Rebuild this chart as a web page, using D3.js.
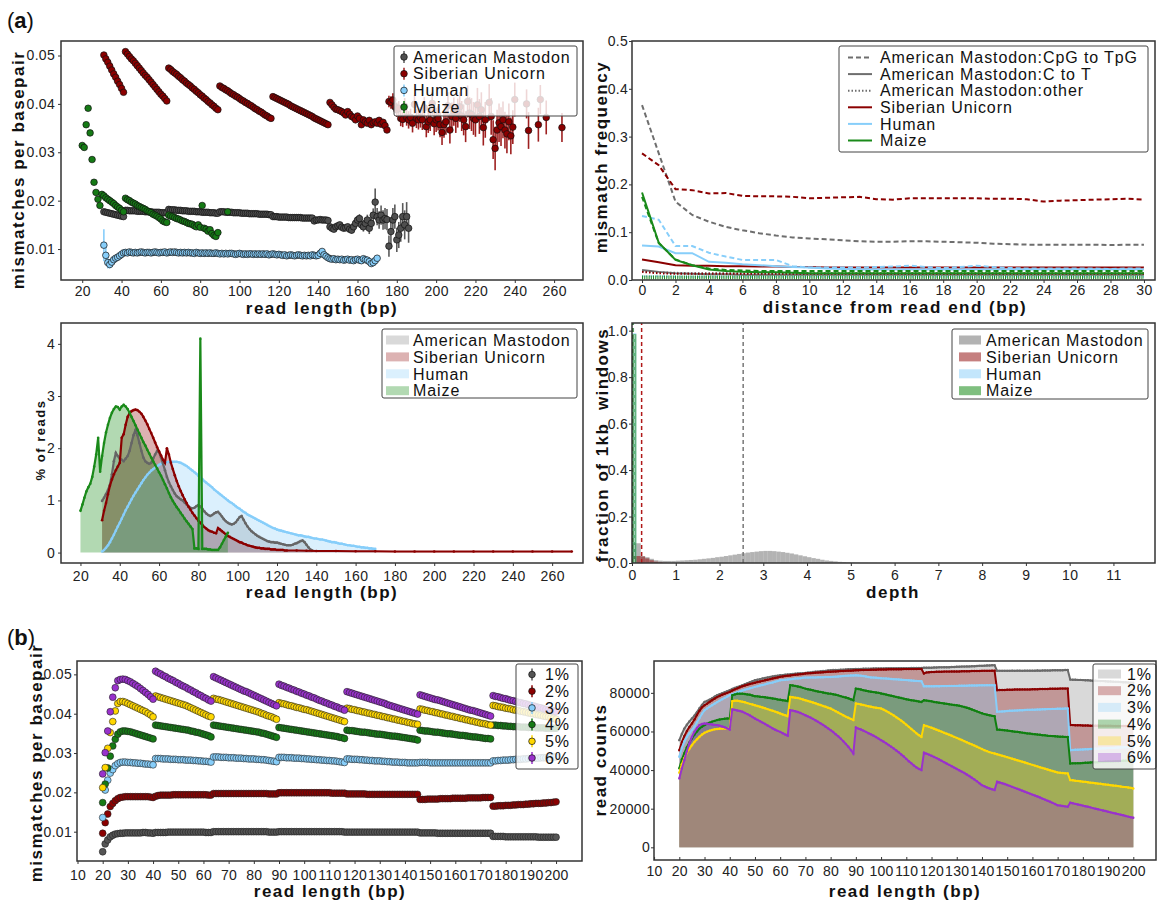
<!DOCTYPE html>
<html>
<head>
<meta charset="utf-8">
<script src="https://cdn.jsdelivr.net/npm/d3@7"></script>
<style>
  body { margin: 0; background: #fff; }
  svg { font-family: "Liberation Sans", Arial, Helvetica, sans-serif; }
  .ax text { font-size: 14px; fill: #222; letter-spacing: 0.3px; }
  .ax line { stroke: #333; }
  .ttl { font-weight: bold; fill: #111; letter-spacing: 1.5px; white-space: pre; }
  .leg { font-size: 16px; fill: #111; letter-spacing: 0.9px; }
</style>
</head>
<body>
<svg id="fig" width="1157" height="901"></svg>
<script>
// ================= DATA =================
// (a) top-left: mismatches per basepair by read length, values in units of 1e-4
const mastStart = 31;
const mastMis = [177,176,175,174,173,172,171,170,169,168,167,
  180,180,179,179,179,179,178,178,178,178,177,177,177,177,176,176,176,176,175,175,175,175,
  182,181,181,181,180,180,180,179,179,179,178,178,178,178,177,177,177,176,176,176,176,175,175,175,174,174,
  177,177,177,176,176,176,176,175,175,175,175,174,174,174,174,173,173,173,173,173,172,172,172,172,172,171,171,
  167,167,167,166,166,166,166,166,165,165,165,165,165,165,165,164,164,164,164,164,164,158,160,160,161,160,160,160,159];
// [read length, value, error]
const mastTail = [[146,146,4],[147,143,4],[148,141,4],[149,146,5],[150,148,5],[151,150,5],[152,145,5],[153,143,6],[154,144,6],[155,146,6],
  [156,141,6],[157,139,7],[158,146,7],[159,153,8],[160,160,9],[161,163,9],[162,150,10],[163,146,10],[164,153,11],[165,160,11],
  [166,143,12],[167,153,13],[168,170,14],[169,197,28],[170,167,18],[171,160,18],[172,170,20],[173,160,20],[174,163,22],[175,161,22],
  [176,106,22],[177,136,25],[178,160,25],[179,167,25],[180,119,25],[181,129,27],[182,143,28],[183,167,28],[184,150,30],[185,167,30],[186,143,30]];

const sibStart = 31;
const sibMis = [501,493,486,478,470,462,455,447,440,432,424,
  508,503,498,493,489,484,479,474,469,464,459,455,450,445,440,435,430,425,420,416,411,406,
  474,471,467,464,461,457,454,450,447,443,440,437,433,430,426,423,419,416,412,409,405,402,398,395,391,388,
  437,434,432,429,427,424,421,419,416,414,411,408,406,403,401,398,396,393,390,388,385,383,380,377,375,372,370,
  415,413,411,409,407,405,403,401,399,396,394,392,390,388,386,384,382,380,378,376,374,371,369,367,365,363,361,359,357,
  403,398,393,389,388,386,384,381,377,384,379,374,372,367,375,370,357,367,363,360,366,357,361,363,360,366,358,362,355,346];
const sibTail = [[176,405,12],[177,403,13],[178,408,14],[179,394,14],[180,388,15],[181,391,15],[182,370,16],[183,368,16],[184,395,17],[185,372,17],
  [186,367,18],[187,372,18],[188,360,19],[189,399,19],[190,370,20],[191,367,20],[192,372,21],[193,367,21],[194,392,22],[195,353,22],
  [196,363,23],[197,367,23],[198,401,24],[199,359,24],[200,367,25],[201,370,25],[202,357,26],[203,341,26],[204,357,27],[205,363,27],
  [206,396,28],[207,346,28],[208,374,29],[209,384,29],[210,370,30],[211,381,30],[212,394,31],[213,375,31],[214,367,32],[215,353,32],
  [216,405,33],[217,381,33],[218,378,34],[219,370,34],[220,367,35],[221,398,35],[222,374,36],[223,388,36],[224,351,37],[225,367,37],
  [227,403,38],[228,374,38],[229,326,40],[230,308,45],[231,346,42],[232,361,40],[233,353,40],[234,367,38],[235,346,38],[236,338,40],
  [237,363,38],[238,334,38],[239,352,35],[240,409,35],[246,400,30],[247,345,38],[252,357,35],[253,409,30],[256,372,35],[264,351,30]];

const humStart = 31;
const humMis = [108,87,72,68,73,78,81,83,86,89,
  92,93,92,94,93,92,93,92,93,94, 93,92,93,93,92,93,94,93,92,93, 93,94,92,93,94,93,94,93,92,93,
  92,93,92,93,92,92,91,93,92,91, 92,91,92,91,92,91,91,92,91,90, 91,90,91,90,91,91,90,89,90,91,
  90,89,90,89,90,90,89,90,89,90, 89,90,89,90,88,89,90,89,88,89, 88,87,88,86,87,88,87,86,87,88,
  87,86,87,86,87,86,88,87,86,87, 91,95,88,85,82,80,79,80,78,79, 78,79,77,78,79,77,78,76,78,79,
  77,76,80,78,77,74,70,72,76,81];
const humErr = [33,18,12,8,5];

const maizeStart = 20;
const maizeMis = [314,310,357,391,340,285,238,217,203,190,213,
  210,206,203,200,197,194,190,187,184,180,177,
  205,202,200,197,195,193,190,188,186,184,182,179,177,175,172,170,168,165,162,158,156,155,
  170,168,167,165,163,162,160,158,157,155,153,152,151,148,146,150,145,190,143,141,137,140,132,128,126,134];
const maizeExtra = [[94,177,3]];

// (a) top-right: mismatch frequency by distance from read end (index = distance 0..30)
const mastCpG = [0.366,0.265,0.164,0.136,0.122,0.111,0.104,0.098,0.093,0.089,0.087,0.085,0.083,0.081,0.080,0.080,0.081,0.081,0.080,0.079,0.078,0.076,0.075,0.074,0.074,0.074,0.074,0.074,0.073,0.074,0.074];
const mastCT = [0.021,0.017,0.014,0.013,0.012,0.012,0.011,0.011,0.011,0.011,0.011,0.011,0.011,0.011,0.011,0.011,0.011,0.011,0.011,0.011,0.011,0.011,0.011,0.011,0.011,0.011,0.011,0.011,0.011,0.011,0.011];
const mastOther = [0.018,0.016,0.015,0.014,0.014,0.014,0.014,0.014,0.014,0.014,0.014,0.014,0.014,0.014,0.014,0.014,0.014,0.014,0.014,0.014,0.014,0.014,0.014,0.014,0.014,0.014,0.014,0.014,0.014,0.014,0.014];
const sibCpG = [0.265,0.240,0.190,0.188,0.181,0.182,0.176,0.175,0.175,0.174,0.171,0.172,0.173,0.174,0.169,0.168,0.171,0.171,0.171,0.171,0.171,0.170,0.170,0.169,0.164,0.166,0.167,0.168,0.169,0.170,0.168];
const sibCT = [0.043,0.037,0.031,0.030,0.030,0.029,0.029,0.028,0.028,0.027,0.027,0.026,0.026,0.026,0.026,0.026,0.026,0.026,0.026,0.026,0.026,0.026,0.026,0.026,0.026,0.026,0.026,0.026,0.026,0.026,0.026];
const sibOther = [0.017,0.014,0.013,0.013,0.013,0.013,0.013,0.013,0.013,0.013,0.013,0.013,0.013,0.013,0.013,0.013,0.013,0.013,0.013,0.013,0.013,0.013,0.013,0.013,0.013,0.013,0.013,0.013,0.013,0.013,0.013];
const humCpG = [0.134,0.126,0.071,0.071,0.057,0.049,0.042,0.042,0.042,0.029,0.026,0.026,0.026,0.026,0.027,0.028,0.030,0.027,0.025,0.027,0.030,0.027,0.025,0.024,0.024,0.024,0.024,0.024,0.023,0.024,0.024];
const humCT = [0.072,0.070,0.056,0.056,0.038,0.036,0.033,0.031,0.029,0.027,0.026,0.024,0.023,0.022,0.022,0.022,0.022,0.022,0.022,0.022,0.022,0.022,0.022,0.022,0.022,0.022,0.022,0.022,0.022,0.022,0.022];
const humOther = [0.008,0.008,0.007,0.007,0.007,0.007,0.007,0.007,0.007,0.007,0.007,0.007,0.007,0.007,0.007,0.007,0.007,0.007,0.007,0.007,0.007,0.007,0.007,0.007,0.007,0.007,0.007,0.007,0.007,0.007,0.007];
const maizeCpG = [0.174,0.077,0.043,0.031,0.024,0.021,0.020,0.019,0.019,0.019,0.019,0.019,0.019,0.019,0.019,0.019,0.019,0.019,0.019,0.019,0.019,0.019,0.019,0.019,0.019,0.019,0.019,0.019,0.019,0.019,0.019];
const maizeCT = [0.183,0.078,0.042,0.031,0.022,0.019,0.017,0.016,0.016,0.015,0.014,0.014,0.014,0.014,0.014,0.014,0.014,0.014,0.014,0.014,0.014,0.014,0.014,0.014,0.014,0.014,0.014,0.014,0.014,0.014,0.014];
const maizeOther = [0.005,0.005,0.005,0.005,0.005,0.005,0.005,0.005,0.005,0.005,0.005,0.005,0.005,0.005,0.005,0.005,0.005,0.005,0.005,0.005,0.005,0.005,0.005,0.005,0.005,0.005,0.005,0.005,0.005,0.005,0.005];

// (a) middle-left: % of reads by read length
const maizePct = [0.80,0.92,1.05,1.17,1.25,1.32,1.45,1.65,1.88,2.20, 1.55,1.85,2.10,2.30,2.45,2.58,2.68,2.75,2.80,2.79,
  2.74,2.80,2.83,2.80,2.75,2.68,2.60,2.52,2.44,2.36, 2.28,2.20,2.12,2.05,1.97,1.90,1.82,1.75,1.68,1.61,
  1.54,1.47,1.39,1.31,1.23,1.14,1.06,0.99,0.93,0.87, 0.82,0.76,0.71,0.65,0.60,0.55,0.50,0.45,0.08,0.08,
  0.07,4.10,0.07,0.07,0.07,0.06,0.06,0.05,0.05,0.05, 0.05,0.10,0.17,0.24,0.31,0.38];
const sibPct = [0.62,0.80,0.95,1.12,1.28,1.40,1.50,1.58,1.65,1.72, 2.20,2.27,2.45,2.60,2.67,2.71,2.73,2.74,2.73,2.70,
  2.66,2.60,2.53,2.46,2.37,2.29,2.20,2.11,2.02,1.94, 1.86,1.78,1.72,2.00,1.88,1.72,1.60,1.48,1.37,1.27,
  1.18,1.10,1.02,0.95,0.88,0.82,0.76,0.71,0.66,0.61, 0.57,0.53,0.49,0.46,0.43,0.41,0.40,0.38,0.37,0.47,
  0.44,0.41,0.38,0.35,0.32,0.30,0.28,0.26,0.24,0.22, 0.20,0.19,0.17,0.16,0.14,0.13,0.12,0.11,0.10,0.09,
  0.09,0.08,0.08,0.07,0.07,0.07,0.06,0.06,0.06,0.05, 0.05,0.05,0.05,0.04,0.04];
const sibPctTail = [[130,0.04],[135,0.035],[140,0.03],[150,0.03],[160,0.025],[170,0.025],[180,0.02],[190,0.02],[200,0.02],
  [210,0.02],[220,0.02],[230,0.02],[240,0.02],[250,0.02],[260,0.02],[270,0.02]];
const mastPct = [0.99,1.05,1.12,1.20,1.30,1.50,1.75,1.91,1.85,1.80, 1.78,1.75,1.80,1.85,1.95,2.10,2.25,2.35,2.25,2.10,
  1.95,1.82,1.75,1.72,1.70,1.72,1.80,1.88,1.95,1.92, 1.82,1.70,1.58,1.45,1.35,1.27,1.20,1.13,1.08,1.05,
  1.02,1.00,0.96,0.92,0.88,0.86,0.85,0.86,0.89,0.91, 0.88,0.84,0.79,0.75,0.72,0.70,0.72,0.75,0.77,0.78,
  0.74,0.69,0.64,0.60,0.57,0.55,0.54,0.55,0.58,0.63, 0.68,0.70,0.63,0.56,0.50,0.45,0.41,0.38,0.35,0.32,
  0.30,0.28,0.26,0.24,0.22,0.21,0.20,0.20,0.19,0.19, 0.18,0.17,0.16,0.15,0.14,0.14,0.14,0.15,0.17,0.18,
  0.20,0.22,0.23,0.20,0.15,0.10,0.06,0.04];
const humPct = [0.02,0.05,0.09,0.14,0.20,0.27,0.34,0.42,0.50,0.57, 0.65,0.73,0.81,0.88,0.95,1.02,1.09,1.15,1.21,1.27,
  1.33,1.39,1.44,1.49,1.53,1.57,1.60,1.63,1.66,1.68, 1.70,1.71,1.72,1.73,1.74,1.74,1.74,1.74,1.74,1.73,
  1.72,1.70,1.68,1.66,1.63,1.60,1.57,1.54,1.51,1.47, 1.44,1.41,1.37,1.34,1.31,1.28,1.25,1.21,1.18,1.15,
  1.12,1.09,1.06,1.03,1.00,0.97,0.95,0.92,0.89,0.86, 0.84,0.81,0.78,0.76,0.73,0.71,0.69,0.67,0.65,0.63,
  0.61,0.59,0.57,0.55,0.53,0.51,0.49,0.47,0.46,0.44, 0.43,0.42,0.41,0.40,0.39,0.38,0.37,0.36,0.35,0.34,
  0.33,0.33,0.32,0.31,0.30,0.30,0.29,0.28,0.27,0.27, 0.26,0.25,0.25,0.24,0.23,0.22,0.21,0.20,0.20,0.19,
  0.18,0.17,0.17,0.16,0.15,0.14,0.14,0.13,0.13,0.12, 0.11,0.11,0.10,0.10,0.09,0.09,0.08,0.08,0.07,0.07];

// (a) middle-right: fraction of 1kb windows per depth bin (bin width 0.1)
const depthBin = 0.1;
const mastFrac = [0.085,0.085,0.030,0.025,0.018,0.012,0.010,0.009,0.009,0.009, 0.010,0.011,0.012,0.013,0.014,0.016,0.018,0.020,0.022,0.025,
  0.027,0.030,0.033,0.036,0.039,0.042,0.045,0.047,0.049,0.051, 0.052,0.052,0.051,0.049,0.047,0.044,0.041,0.037,0.033,0.029,
  0.025,0.021,0.018,0.014,0.011,0.009,0.007,0.005,0.004,0.003, 0.002,0.0015,0.001,0.001,0.0005,0.0005];
const sibFrac = [0.030,0.030,0.028,0.020,0.012,0.006,0.003,0.001];
const humFrac = [0.99];
const maizeFrac = [0.985];
const meanDepth = [2.54, 0.22, 0.04, 0.02];

// (b) left: mismatches per basepair by read length (20..200), units of 1e-4
const mis1 = [49,69,79,87,91,94,95,96,96,97,97,97,97,97,97,97,98,98,97,97,96,
  98,98,98,98,98,99,99,99,99,99,99,99,99,99,99,99,99,99,99,99,98,98,98,
  100,100,100,100,100,100,100,100,100,100,100,100,100,100,100,100,100,100,100,100,100,100,99,99,99,99,
  100,100,100,100,100,100,100,100,100,100,100,100,100,100,100,100,100,100,100,100,100,100,100,100,100,100,99,
  99,99,99,99,99,99,99,99,99,99,99,99,99,99,99,99,99,99,99,99,99,99,99,99,99,99,99,99,99,
  97,97,97,97,97,97,97,96,96,96,96,96,96,96,96,96,96,96,96,96,96,96,96,96,96,96,96,96,96,
  88,88,88,88,88,87,87,87,87,87,87,87,87,87,87,87,87,87,86,86,86,86,86,86,86,86];
const mis2 = [96,123,145,164,172,179,184,187,188,189,189,189,189,189,189,189,189,189,189,188,187,
  190,192,193,193,193,193,193,194,194,194,194,194,194,194,194,194,194,194,194,194,194,193,193,
  197,197,197,197,197,197,197,197,197,197,197,197,197,197,197,197,197,197,197,197,197,197,196,196,196,196,
  199,199,199,199,199,199,199,199,199,199,199,199,199,199,199,199,199,199,199,199,199,198,198,198,198,198,198,
  196,196,196,196,196,196,196,196,195,195,195,195,195,195,195,195,195,195,195,195,195,195,195,195,195,195,195,195,195,
  182,182,182,183,183,183,183,183,184,184,184,184,184,185,185,185,185,185,185,186,186,186,186,186,186,187,187,187,187,
  165,165,166,166,166,167,167,167,168,168,169,169,169,170,170,171,171,172,172,172,173,173,174,174,175,176];
const mis3 = [136,206,231,249,258,268,273,276,277,277,276,276,275,275,274,274,273,272,272,271,270,
  286,286,286,285,285,285,284,284,284,283,283,283,282,282,282,281,281,280,280,279,279,278,277,
  290,290,290,289,289,289,288,288,288,287,287,287,286,286,285,285,285,284,284,283,283,282,281,280,279,278,
  289,289,289,288,288,288,287,287,287,286,286,285,285,284,284,283,283,282,282,281,281,280,280,279,278,277,276,
  285,285,284,284,284,283,283,282,282,281,281,280,280,280,279,279,278,278,277,277,277,276,276,276,275,275,275,275,275,
  276,276,276,276,275,275,275,275,275,275,275,275,275,275,275,275,275,275,275,275,275,275,275,275,275,275,275,275,275,
  280,280,281,281,282,282,282,283,283,284,284,284,285,285,286,286,286,287,287,288,288,288,289,289,290,290];
const mis4 = [174,221,262,292,318,335,348,354,356,356,355,354,352,350,348,346,344,342,340,338,336,
  371,370,369,368,367,366,365,364,363,362,361,360,359,358,356,355,353,352,350,348,346,344,341,
  371,370,369,368,367,366,365,364,363,362,361,360,359,358,357,356,355,354,353,351,350,348,346,344,342,340,
  365,364,363,362,361,360,359,358,357,356,355,354,353,352,351,350,349,348,347,346,345,344,343,342,340,339,337,
  358,357,357,356,355,354,353,353,352,351,350,349,348,348,347,346,345,344,343,343,342,341,340,339,338,337,336,335,333,
  358,357,356,356,355,354,353,353,352,351,350,349,349,348,347,346,345,345,344,343,342,341,341,340,339,338,337,337,336,
  371,371,370,370,369,369,368,368,367,367,367,366,366,366,365,365,365,364,364,364,364,363,363,363,363,363];
const mis5 = [212,263,312,352,380,407,426,431,431,429,426,423,420,417,414,411,408,405,401,397,392,
  445,443,441,439,437,435,433,431,429,427,425,423,421,418,415,412,409,406,403,400,397,394,392,
  439,437,436,434,432,430,428,426,424,422,420,418,416,414,412,410,408,406,404,401,399,396,394,392,389,386,
  428,426,425,423,421,420,418,416,415,413,411,410,408,406,404,402,400,398,396,394,392,390,388,386,384,382,380,
  414,413,411,410,408,407,405,404,402,401,399,398,396,395,393,392,390,389,387,386,384,383,381,380,378,377,375,374,373,
  412,411,409,408,406,405,403,402,400,399,397,396,394,393,391,390,388,387,385,384,382,381,379,378,376,375,374,372,371,
  421,420,418,417,416,414,413,412,410,409,408,406,405,404,402,401,400,398,397,396,394,393,392,390,388,386];
const mis6 = [247,301,356,405,442,466,484,487,488,487,484,481,477,473,469,464,459,454,449,443,437,
  508,504,501,497,494,490,487,484,480,477,473,470,467,463,460,456,453,449,446,442,439,435,432,
  494,491,488,485,482,479,476,473,470,467,464,461,458,456,453,450,447,444,441,438,435,432,429,426,423,420,
  475,472,470,467,465,462,460,457,455,452,450,447,445,442,440,437,434,432,429,427,424,422,419,417,414,412,409,
  456,454,452,450,448,446,444,442,440,438,436,434,432,430,428,426,423,421,419,417,415,413,411,409,407,405,403,401,399,
  448,446,444,442,440,438,436,435,433,431,429,427,425,423,421,419,417,415,413,411,409,408,406,404,402,400,398,396,394,
  446,444,443,441,439,438,436,434,433,431,429,428,426,425,423,421,420,418,416,415,413,411,410,408,407,405];

// (b) right: read counts by read length (20..200), in thousands of reads
const cnt1 = [55.5,58.7,61.5,63.5,65.2,66.7,68.2,70.0,72.0,73.8,75.3,
  75.8,76.5,77.2,78.0,78.8,79.3,79.8,80.3,80.9,81.4, 82.0,82.6,83.0,83.5,84.0,84.5,85.0,85.5,86.0,86.5,
  86.8,87.1,87.4,87.7,88.0,88.2,88.5,88.7,88.9,89.1, 89.2,89.4,89.5,89.6,89.8,89.9,90.0,90.1,90.2,90.3,
  90.5,90.6,90.8,90.9,91.0,91.2,91.3,91.4,91.6,91.7, 91.8,91.8,91.9,92.0,92.0,92.1,92.2,92.2,92.3,92.4,
  92.4,92.4,92.5,92.5,92.5,92.5,92.6,92.6,92.6,92.6, 92.6,92.7,92.7,92.7,92.7,92.7,92.8,92.8,92.8,92.8,
  92.8,92.9,92.9,92.9,92.9,92.9,93.0,93.0,93.0,93.0, 93.1,93.1,93.2,93.2,93.3,93.3,93.3,93.4,93.4,93.5,
  93.5,93.6,93.6,93.7,93.7,93.8,93.8,93.9,94.0,94.0, 94.1,94.2,94.2,94.3,94.3,
  91.4,91.4,91.4,91.4,91.4, 91.4,91.5,91.4,91.5,91.5,91.4,91.5,91.5,91.5,91.5, 91.5,91.6,91.5,91.6,91.6,91.6,91.6,91.7,91.7,91.7, 91.7,91.7,91.8,91.8,
  86.9,86.8,86.8,86.7,86.7,86.6, 86.5,86.5,86.4,86.3,86.3,86.2,86.1,86.1,86.0,85.9, 85.9,85.8,85.7,85.7,85.6,85.5,85.5,85.4,85.3,85.2];
const cnt2 = [50.3,54.5,57.6,60.2,62.3,64.1,66.2,68.5,70.7,72.5,73.6,
  74.4,75.3,76.2,77.0,77.8,78.4,79.0,79.5,80.0,80.5, 81.2,81.8,82.3,82.9,83.4,83.8,84.2,84.6,84.9,85.2,
  85.6,85.9,86.2,86.5,86.8,87.1,87.4,87.7,88.0,88.3, 88.5,88.7,88.9,89.0,89.2,89.4,89.5,89.7,89.8,90.0,
  90.1,90.2,90.3,90.4,90.5,90.6,90.7,90.8,90.9,90.9, 91.0,91.1,91.2,91.3,91.3,91.4,91.5,91.5,91.6,91.7,
  91.7,91.8,91.8,91.9,91.9,92.0,92.0,92.0,92.1,92.1, 92.1,92.1,92.2,92.2,92.2,92.2,92.2,92.2,92.3,92.3,
  92.3,92.3,92.3,92.3,92.4,92.4, 90.0,90.6,90.7,90.8,
  90.8,90.9,90.9,90.9,91.0,91.0,91.0,91.1,91.1,91.1, 91.1,91.2,91.2,91.2,91.2,91.3,91.3,91.3,91.3,91.4, 91.4,91.4,91.4,91.5,91.5,
  81.4,81.5,81.5,81.5,81.6, 81.6,81.6,81.7,81.7,81.7,81.8,81.8,81.8,81.8,81.9, 81.9,81.9,82.0,82.0,82.0,82.0,82.1,82.1,82.1,82.1, 82.2,82.2,82.2,82.2,
  63.3,63.3,63.2,63.2,63.2,63.1, 63.1,63.1,63.0,63.0,63.0,63.0,62.9,62.9,62.9,62.9, 62.9,62.8,62.8,62.8,62.8,62.8,62.8,62.8,62.8,62.8];
const cnt3 = [46.9,51.5,54.8,57.2,59.1,60.7,62.6,64.8,67.0,69.2,71.0,
  71.9,72.8,73.6,74.4,75.2,76.0,76.7,77.4,78.1,78.8, 79.3,79.8,80.3,80.7,81.2,81.6,82.0,82.4,82.7,83.1,
  83.4,83.8,84.1,84.4,84.8,85.1,85.4,85.8,86.1,86.5, 86.6,86.8,86.9,87.1,87.2,87.4,87.5,87.6,87.8,87.9,
  87.9,88.0,88.0,88.0,88.1,88.1,88.1,88.2,88.2,88.2, 88.3,88.4,88.5,88.6,88.7,88.8,88.9,89.0,89.0,89.1,
  89.0,88.9,88.7,88.5,88.2,88.0,87.9,87.8,87.7,87.6, 87.5,87.4,87.3,87.2,87.1,87.0,86.9,86.8,86.7,86.6,
  86.5,86.4,86.3,86.2,86.1,86.0, 83.4,83.4,83.4,83.4,
  83.4,83.5,83.4,83.5,83.5,83.5,83.6,83.6,83.6,83.6, 83.7,83.7,83.7,83.7,83.8,83.8,83.8,83.8,83.9,83.9, 83.9,84.0,84.0,84.0,84.0,
  70.2,70.3,70.4,70.5,70.6, 70.7,70.7,70.8,70.9,71.0,71.0,71.1,71.2,71.2,71.3, 71.3,71.4,71.4,71.5,71.5,71.6,71.6,71.7,71.7,71.8, 71.8,71.8,71.9,71.9,
  50.3,50.4,50.5,50.5,50.6,50.7, 50.8,50.8,50.9,51.0,51.1,51.1,51.2,51.3,51.3,51.4, 51.5,51.5,51.6,51.7,51.7,51.8,51.8,51.9,52.0,52.0];
const cnt4 = [40.9,45.5,48.8,51.8,54.3,56.4,58.3,60.0,61.5,62.5,63.3,
  64.0,64.6,65.1,65.5,65.9,66.2,66.4,66.6,66.7,66.7, 78.8,79.2,79.5,79.6,79.6,79.4,79.2,79.0,78.6,78.3,
  78.2,78.0,77.9,77.7,77.5,77.3,77.1,76.9,76.6,76.4, 76.2,76.0,75.7,
  84.0,83.8,83.6,83.3,83.0,82.6,82.2, 81.9,81.6,81.3,81.0,80.7,80.5,80.2,79.9,79.7,79.6, 79.3,79.0,78.7,78.3,77.9,77.6,77.2,76.7,76.2,
  82.2,82.0,81.7,81.4,81.1,80.8,80.6,80.4,80.2,80.0,79.7, 79.4,79.1,78.8,78.5,78.2,77.9,77.6,77.3,77.0,76.7, 76.4,76.2,76.0,75.8,75.5,75.3,
  76.2,76.0,75.8,75.6, 75.3,75.1,74.9,74.7,74.5,74.3,74.1,73.9,73.7,73.6, 73.3,73.0,72.7,72.3,71.9,71.4,70.9,70.4,69.9,69.4, 69.0,68.7,68.4,68.1,67.9,
  61.0,60.9,60.8,60.6,60.5, 60.3,60.1,59.9,59.8,59.6,59.4,59.2,59.0,58.9,58.7, 58.6,58.4,58.3,58.1,58.0,57.8,57.7,57.6,57.5,57.4, 57.3,57.3,57.2,57.2,
  43.4,43.5,43.5,43.6,43.6,43.7, 43.8,43.8,43.9,44.0,44.0,44.1,44.2,44.2,44.3,44.4, 44.4,44.5,44.6,44.6,44.7,44.8,44.8,44.9,45.0,45.1];
const cnt5 = [38.6,43.0,46.2,48.8,51.0,52.9,54.6,56.0,57.3,58.4,59.3,
  59.9,60.4,60.8,61.1,61.3,61.4,61.5,61.5,61.5,61.5, 75.7,75.9,75.9,75.7,75.4,75.1,74.7,74.3,74.0,73.6,
  73.2,72.8,72.4,72.0,71.6,71.1,70.7,70.3,69.8,69.3, 68.8,68.4,67.9,
  77.9,77.7,77.5,77.3,77.0,76.6,76.2, 75.8,75.4,75.0,74.6,74.1,73.7,73.2,72.8,72.3,71.9, 71.2,70.5,69.8,69.1,68.4,67.7,67.1,66.5,65.9,
  74.5,74.3,74.0,73.7,73.4,73.1,72.8,72.5,72.3,72.1,71.9, 71.3,70.6,69.9,69.1,68.3,67.4,66.5,65.6,64.6,63.5, 62.4,61.3,60.2,59.1,58.1,57.2,
  63.3,62.8,62.4,61.9, 61.4,60.9,60.4,59.9,59.3,58.8,58.3,57.8,57.2,56.7, 56.1,55.6,55.0,54.4,53.8,53.3,52.7,52.1,51.5,50.9, 50.3,49.8,49.3,48.9,48.6,
  48.2,47.8,47.4,47.1,46.7, 46.3,45.9,45.5,45.1,44.7,44.3,43.9,43.5,43.1,42.7, 42.3,41.9,41.5,41.1,40.7,40.3,39.9,39.5,39.1,38.8, 38.6,38.5,38.4,38.3,
  34.8,34.7,34.5,34.4,34.2,34.0, 33.9,33.7,33.5,33.4,33.2,33.0,32.9,32.7,32.5,32.4, 32.2,32.0,31.9,31.7,31.5,31.3,31.2,31.0,30.8,30.5];
const cnt6 = [35.7,40.8,45.2,49.8,53.8,57.2,59.8,61.8,63.3,63.9,64.1,
  64.0,63.8,63.6,63.4,63.3,63.0,62.6,62.2,61.6,61.0, 71.4,71.2,70.9,70.6,70.2,69.6,69.0,68.3,67.5,66.7,
  66.0,65.3,64.6,63.9,63.1,62.4,61.6,60.9,60.3,59.8, 59.1,58.4,57.8,
  71.0,70.8,70.5,70.1,69.6,69.0,68.4, 67.8,67.2,66.5,65.8,65.0,64.2,63.4,62.5,61.6,60.7, 59.7,58.6,57.5,56.3,55.0,53.6,52.1,50.4,48.6,
  62.1,61.5,61.0,60.4,59.8,59.1,58.5,57.8,57.1,56.3,55.5, 54.7,53.9,53.0,52.1,51.2,50.2,49.2,48.1,47.0,45.8, 44.6,43.5,42.4,41.4,40.6,40.0,
  49.0,48.5,48.0,47.4, 46.8,46.2,45.5,44.8,44.1,43.4,42.7,42.0,41.3,40.6, 39.9,39.2,38.5,37.7,36.9,36.0,35.1,34.2,33.2,32.2, 31.6,31.0,30.5,30.1,29.7,
  34.0,33.6,33.2,32.8,32.3, 31.8,31.3,30.8,30.3,29.8,29.3,28.8,28.3,27.8,27.3, 26.8,26.3,25.8,25.2,24.7,24.1,23.6,23.0,22.4,21.8, 21.6,21.4,21.2,21.0,
  23.1,22.8,22.5,22.2,21.9,21.6, 21.3,21.0,20.7,20.3,20.0,19.7,19.4,19.1,18.8,18.4, 18.1,17.8,17.5,17.2,16.9,16.6,16.2,15.9,15.6,15.3];

// tick values
const p1LenTicks = [20,40,60,80,100,120,140,160,180,200,220,240,260];
const p1MisTicks = [0.01,0.02,0.03,0.04,0.05];
const p2DistTicks = [0,2,4,6,8,10,12,14,16,18,20,22,24,26,28,30];
const p2FreqTicks = [0,0.1,0.2,0.3,0.4,0.5];
const p3LenTicks = [20,40,60,80,100,120,140,160,180,200,220,240,260];
const p3PctTicks = [0,1,2,3,4];
const p4DepthTicks = [0,1,2,3,4,5,6,7,8,9,10,11];
const p4FracTicks = [0,0.2,0.4,0.6,0.8,1.0];
const bLenTicks = [10,20,30,40,50,60,70,80,90,100,110,120,130,140,150,160,170,180,190,200];
const p5MisTicks = [0.01,0.02,0.03,0.04,0.05];
const p6CountTicks = [0,20000,40000,60000,80000];

const speciesNames = ['American Mastodon', 'Siberian Unicorn', 'Human', 'Maize'];
const pctNames = ['1%', '2%', '3%', '4%', '5%', '6%'];

// ================= DRAWING =================
const svg = d3.select('#fig');

function axes(p) {
  const x = d3.scaleLinear().domain(p.xDom).range([p.l, p.r]);
  const y = d3.scaleLinear().domain(p.yDom).range([p.b, p.t]);
  svg.append('clipPath').attr('id', 'c' + p.id).append('rect')
    .attr('x', p.l).attr('y', p.t).attr('width', p.r - p.l).attr('height', p.b - p.t);
  const gx = svg.append('g').attr('class', 'ax')
    .attr('transform', `translate(0,${p.b})`)
    .call(d3.axisBottom(x).tickValues(p.xTicks).tickSize(p.xIn ? -3 : 3)
      .tickPadding(p.xPad).tickFormat(d3.format(p.xFmt)));
  gx.select('.domain').remove();
  const gy = svg.append('g').attr('class', 'ax')
    .attr('transform', `translate(${p.l},0)`)
    .call(d3.axisLeft(y).tickValues(p.yTicks).tickSize(3)
      .tickPadding(p.yPad).tickFormat(d3.format(p.yFmt)));
  gy.select('.domain').remove();
  const g = svg.append('g').attr('clip-path', `url(#c${p.id})`);
  return {x, y, g};
}

function axTitle(txt, x, y, rot, size) {
  const t = svg.append('text').attr('class', 'ttl').attr('text-anchor', 'middle')
    .attr('font-size', size).attr('dy', '0.35em').text(txt);
  if (rot) t.attr('transform', `translate(${x},${y}) rotate(-90)`);
  else t.attr('x', x).attr('y', y);
}

function legendBox(x0, y0, x1, y1) {
  svg.append('rect').attr('x', x0).attr('y', y0).attr('width', x1 - x0).attr('height', y1 - y0)
    .attr('rx', 2).attr('fill', '#fff').attr('fill-opacity', 0.82)
    .attr('stroke', '#444').attr('stroke-width', 1);
}
function legendText(x, y, txt) {
  svg.append('text').attr('class', 'leg').attr('x', x).attr('y', y).attr('dy', '0.36em').text(txt);
}
function legendMarker(x, y, fill, bar) {
  svg.append('line').attr('x1', x).attr('x2', x).attr('y1', y - 6).attr('y2', y + 6)
    .attr('stroke', bar).attr('stroke-width', 1.5);
  svg.append('circle').attr('cx', x).attr('cy', y).attr('r', 3.3)
    .attr('fill', fill).attr('stroke', '#111').attr('stroke-width', 0.7);
}

const panels = [];

// ---------- (a) top-left ----------
function toPts(start, vals, extra, firstErr) {
  const pts = vals.map((v, i) => ({len: start + i, v: v / 1e4, e: (firstErr[i] || 3) / 1e4}));
  extra.forEach(d => pts.push({len: d[0], v: d[1] / 1e4, e: (d[2] || 3) / 1e4}));
  return pts;
}
const P1 = {id: 1, l: 61, t: 41, r: 583, b: 280, xDom: [9.2, 274.7], yDom: [0.0036, 0.0530],
  xTicks: p1LenTicks, yTicks: p1MisTicks, xFmt: 'd', yFmt: '.2f', xPad: 3, yPad: 3};
panels.push(P1);
const a1 = axes(P1);
const p1Series = [
  {fill: '#4f4f4f', bar: '#5a5a5a', pts: toPts(mastStart, mastMis, mastTail, [])},
  {fill: '#8b0000', bar: '#9e2020', pts: toPts(sibStart, sibMis, sibTail, [])},
  {fill: '#87cefa', bar: '#87cefa', pts: toPts(humStart, humMis, [], humErr)},
  {fill: '#157a15', bar: '#157a15', pts: toPts(maizeStart, maizeMis, maizeExtra, [])}
];
p1Series.forEach(s => {
  a1.g.append('g').selectAll('line').data(s.pts).join('line')
    .attr('x1', d => a1.x(d.len)).attr('x2', d => a1.x(d.len))
    .attr('y1', d => a1.y(d.v - d.e)).attr('y2', d => a1.y(d.v + d.e))
    .attr('stroke', s.bar).attr('stroke-width', 1.6);
  a1.g.append('g').selectAll('circle').data(s.pts).join('circle')
    .attr('cx', d => a1.x(d.len)).attr('cy', d => a1.y(d.v)).attr('r', 3.3)
    .attr('fill', s.fill).attr('stroke', '#111').attr('stroke-width', 0.7);
});
legendBox(394, 46, 577, 116);
p1Series.forEach((s, i) => {
  const cy = 57 + i * 16.7;
  legendMarker(404, cy, s.fill, s.bar);
  legendText(413, cy, speciesNames[i]);
});
axTitle('mismatches per basepair', 18, 170, true, 17);
axTitle('read length (bp)', 322, 308, false, 17);

// ---------- (a) top-right ----------
const P2 = {id: 2, l: 632, t: 41, r: 1155, b: 280, xDom: [-0.6, 30.66], yDom: [0, 0.5],
  xTicks: p2DistTicks, yTicks: p2FreqTicks, xFmt: 'd', yFmt: '.1f', xPad: 2, yPad: 1};
panels.push(P2);
const a2 = axes(P2);
const GREY = '#6e6e6e', RED = '#8b0000', BLUE = '#87cefa', GREEN = '#1a8a1a';
const DASH = '5,3', DOT = '1.5,2';
const p2Lines = [
  {v: mastCpG, c: GREY, d: DASH}, {v: mastCT, c: GREY, d: null}, {v: mastOther, c: GREY, d: DOT},
  {v: sibCpG, c: RED, d: DASH}, {v: sibCT, c: RED, d: null}, {v: sibOther, c: RED, d: DOT},
  {v: humCpG, c: BLUE, d: DASH}, {v: humCT, c: BLUE, d: null}, {v: humOther, c: BLUE, d: DOT},
  {v: maizeCpG, c: GREEN, d: DASH}, {v: maizeCT, c: GREEN, d: null}, {v: maizeOther, c: GREEN, d: '1,1.2', w: 4}
];
const line2 = d3.line().x((d, i) => a2.x(i)).y(d => a2.y(d));
p2Lines.forEach(s => {
  a2.g.append('path').attr('d', line2(s.v)).attr('fill', 'none')
    .attr('stroke', s.c).attr('stroke-width', s.w || 2)
    .attr('stroke-dasharray', s.d);
});
legendBox(839, 46, 1148, 152);
const p2Legend = [
  {name: 'American Mastodon:CpG to TpG', c: GREY, d: DASH},
  {name: 'American Mastodon:C to T', c: GREY, d: null},
  {name: 'American Mastodon:other', c: GREY, d: DOT},
  {name: 'Siberian Unicorn', c: RED, d: null},
  {name: 'Human', c: BLUE, d: null},
  {name: 'Maize', c: GREEN, d: null}
];
p2Legend.forEach((s, i) => {
  const cy = 57.5 + i * 16.6;
  svg.append('line').attr('x1', 848).attr('x2', 872).attr('y1', cy).attr('y2', cy)
    .attr('stroke', s.c).attr('stroke-width', 2).attr('stroke-dasharray', s.d);
  legendText(880, cy, s.name);
});
axTitle('mismatch frequency', 601, 157, true, 17);
axTitle('distance from read end (bp)', 895, 307, false, 17);

// ---------- (a) middle-left ----------
const P3 = {id: 3, l: 61, t: 323, r: 583, b: 563, xDom: [10.1, 275.7], yDom: [-0.2, 4.4],
  xTicks: p3LenTicks, yTicks: p3PctTicks, xFmt: 'd', yFmt: 'd', xPad: 5, yPad: 3};
panels.push(P3);
const a3 = axes(P3);
const byLen = (start, vals) => vals.map((v, i) => ({len: start + i, v}));
const p3Series = [
  {c: '#666666', f: '#808080', pts: byLen(31, mastPct)},
  {c: '#8b0000', f: '#8b0000', pts: byLen(31, sibPct).concat(sibPctTail.map(d => ({len: d[0], v: d[1]})))},
  {c: '#87cefa', f: '#87cefa', pts: byLen(31, humPct)},
  {c: '#1a8a1a', f: '#008000', pts: byLen(20, maizePct)}
];
const area3 = d3.area().x(d => a3.x(d.len)).y0(a3.y(0)).y1(d => a3.y(d.v));
const line3 = d3.line().x(d => a3.x(d.len)).y(d => a3.y(d.v));
p3Series.forEach(s => {
  a3.g.append('path').attr('d', area3(s.pts)).attr('fill', s.f).attr('fill-opacity', 0.3);
});
[2, 0, 1, 3].forEach(k => {
  const s = p3Series[k];
  a3.g.append('path').attr('d', line3(s.pts)).attr('fill', 'none')
    .attr('stroke', s.c).attr('stroke-width', 2.2);
  a3.g.append('g').selectAll('circle').data(s.pts).join('circle')
    .attr('cx', d => a3.x(d.len)).attr('cy', d => a3.y(d.v)).attr('r', 1.3).attr('fill', s.c);
});
legendBox(382, 329, 577, 398);
p3Series.forEach((s, i) => {
  const cy = 340 + i * 16.9;
  svg.append('rect').attr('x', 386).attr('y', cy - 4.5).attr('width', 23).attr('height', 9)
    .attr('fill', s.f).attr('fill-opacity', 0.3);
  legendText(413, cy, speciesNames[i]);
});
axTitle('% of reads', 40, 440, true, 13);
axTitle('read length (bp)', 322, 592, false, 17);

// ---------- (a) middle-right ----------
const P4 = {id: 4, l: 632, t: 323, r: 1155, b: 563, xDom: [0, 11.95], yDom: [0, 1.033],
  xTicks: p4DepthTicks, yTicks: p4FracTicks, xFmt: 'd', yFmt: '.1f', xPad: 4, yPad: 1};
panels.push(P4);
const a4 = axes(P4);
const p4Series = [
  {f: '#808080', op: 0.6, vals: mastFrac, m: '#777777'},
  {f: '#8b0000', op: 0.5, vals: sibFrac, m: '#b01818'},
  {f: '#87cefa', op: 0.5, vals: humFrac, m: '#e8f6ff'},
  {f: '#008000', op: 0.5, vals: maizeFrac, m: '#0a6a0a'}
];
p4Series.forEach(s => {
  a4.g.append('g').selectAll('rect').data(s.vals).join('rect')
    .attr('x', (d, i) => a4.x(i * depthBin))
    .attr('width', (d, i) => a4.x((i + 1) * depthBin) - a4.x(i * depthBin))
    .attr('y', d => a4.y(d)).attr('height', d => a4.y(0) - a4.y(d))
    .attr('fill', s.f).attr('fill-opacity', s.op);
});
p4Series.forEach((s, i) => {
  a4.g.append('line').attr('x1', a4.x(meanDepth[i])).attr('x2', a4.x(meanDepth[i]))
    .attr('y1', a4.y(0)).attr('y2', a4.y(1.033))
    .attr('stroke', s.m).attr('stroke-width', 1.5).attr('stroke-dasharray', '4,3');
});
legendBox(952, 329, 1148, 399);
p4Series.forEach((s, i) => {
  const cy = 340 + i * 16.9;
  svg.append('rect').attr('x', 959).attr('y', cy - 4.5).attr('width', 22).attr('height', 9)
    .attr('fill', s.f).attr('fill-opacity', s.op);
  legendText(986, cy, speciesNames[i]);
});
axTitle('fraction of 1kb  windows', 602, 445, true, 17);
axTitle('depth', 893, 592, false, 17);

// ---------- (b) left ----------
const P5 = {id: 5, l: 77, t: 661, r: 582, b: 861, xDom: [9.8, 210.3], yDom: [0.00255, 0.0534],
  xTicks: bLenTicks, yTicks: p5MisTicks, xFmt: 'd', yFmt: '.2f', xPad: 6, yPad: 2};
panels.push(P5);
const a5 = axes(P5);
const p5Series = [
  {c: '#555555', vals: mis1}, {c: '#8b0000', vals: mis2}, {c: '#87cefa', vals: mis3},
  {c: '#157a15', vals: mis4}, {c: '#ffd700', vals: mis5}, {c: '#9932cc', vals: mis6}
];
p5Series.forEach(s => {
  a5.g.append('g').selectAll('circle').data(s.vals).join('circle')
    .attr('cx', (d, i) => a5.x(20 + i)).attr('cy', d => a5.y(d / 1e4)).attr('r', 3.4)
    .attr('fill', s.c).attr('stroke', '#222').attr('stroke-width', 0.6);
});
legendBox(516, 664, 578, 769);
p5Series.forEach((s, i) => {
  const cy = 674.5 + i * 16.7;
  legendMarker(532, cy, s.c, s.c);
  legendText(545, cy, pctNames[i]);
});
axTitle('mismatches per basepair', 36, 763, true, 17);
axTitle('read length (bp)', 330, 891, false, 17);

// ---------- (b) right ----------
const P6 = {id: 6, l: 654, t: 661, r: 1156, b: 860, xDom: [9.97, 209], yDom: [-6570, 96500],
  xTicks: bLenTicks, yTicks: p6CountTicks, xFmt: 'd', yFmt: 'd', xPad: 6, yPad: 1, xIn: true};
panels.push(P6);
const a6 = axes(P6);
const p6Series = [
  {c: '#6a6a6a', f: '#808080', vals: cnt1}, {c: '#8b0000', f: '#8b0000', vals: cnt2},
  {c: '#87cefa', f: '#87cefa', vals: cnt3}, {c: '#108010', f: '#008000', vals: cnt4},
  {c: '#ffd700', f: '#ffd700', vals: cnt5}, {c: '#9932cc', f: '#9932cc', vals: cnt6}
];
const area6 = d3.area().x((d, i) => a6.x(20 + i)).y0(a6.y(0)).y1(d => a6.y(d * 1000));
const line6 = d3.line().x((d, i) => a6.x(20 + i)).y(d => a6.y(d * 1000));
p6Series.forEach(s => {
  a6.g.append('path').attr('d', area6(s.vals)).attr('fill', s.f).attr('fill-opacity', 0.3);
});
p6Series.forEach(s => {
  a6.g.append('path').attr('d', line6(s.vals)).attr('fill', 'none')
    .attr('stroke', s.c).attr('stroke-width', 2);
  a6.g.append('g').selectAll('circle').data(s.vals).join('circle')
    .attr('cx', (d, i) => a6.x(20 + i)).attr('cy', d => a6.y(d * 1000)).attr('r', 1.2).attr('fill', s.c);
});
legendBox(1093, 664, 1156, 769);
p6Series.forEach((s, i) => {
  const cy = 674 + i * 16.7;
  svg.append('rect').attr('x', 1098).attr('y', cy - 4.5).attr('width', 23).attr('height', 9)
    .attr('fill', s.f).attr('fill-opacity', 0.3);
  legendText(1127, cy, pctNames[i]);
});
axTitle('read counts', 600, 760, true, 17);
axTitle('read length (bp)', 905, 891, false, 17);

// frames on top
panels.forEach(p => {
  svg.append('rect').attr('x', p.l).attr('y', p.t).attr('width', p.r - p.l).attr('height', p.b - p.t)
    .attr('fill', 'none').attr('stroke', '#333').attr('stroke-width', 1.5);
});

// panel letters
[['a', 28], ['b', 645]].forEach(([letter, y]) => {
  const t = svg.append('text').attr('x', 7).attr('y', y).attr('font-size', 22).attr('fill', '#111');
  t.append('tspan').text('(');
  t.append('tspan').attr('font-weight', 'bold').text(letter);
  t.append('tspan').text(')');
});
</script>
</body>
</html>
